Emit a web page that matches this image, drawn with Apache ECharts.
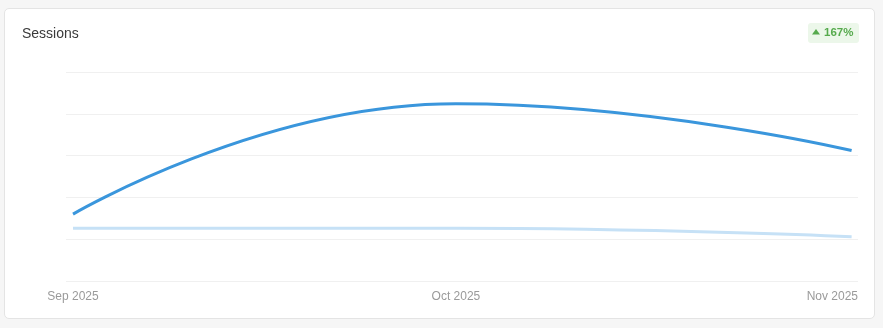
<!DOCTYPE html>
<html>
<head>
<meta charset="utf-8">
<script src="https://cdn.jsdelivr.net/npm/echarts@6/dist/echarts.min.js"></script>
<style>
  html, body { margin: 0; padding: 0; background: #f6f6f6; }
  #card { position: absolute; left: 4px; top: 8px; width: 869px; height: 309px; background: #fff; border: 1px solid #e4e4e4; border-radius: 5px; }
  #chart { position: absolute; left: 0; top: 0; width: 883px; height: 328px; }
</style>
</head>
<body>
<div id="card"></div>
<div id="chart"></div>
<script>
// Data (day offsets from Sep 1, 2025)
const dayOffsets = [0, 30, 61];
const tickLabels = ['Sep 2025', 'Oct 2025', 'Nov 2025'];
const currentSessions = [80, 212, 156];
const previousSessions = [63, 63, 53];
const titleText = 'Sessions';
const badgeText = '167%';

const chart = echarts.init(document.getElementById('chart'), null, { renderer: 'canvas' });

const labelPositions = [dayOffsets[0], dayOffsets[1], 61.5];

chart.setOption({
  backgroundColor: 'transparent',
  animation: false,
  title: {
    text: titleText,
    left: 22, top: 27, padding: 0,
    textStyle: { fontFamily: 'Liberation Sans, Arial, sans-serif', fontSize: 14, fontWeight: 'normal', color: '#3a3a3a' }
  },
  graphic: [
    {
      type: 'group', right: 24, top: 23,
      children: [
        { type: 'rect', shape: { x: 0, y: 0, width: 51, height: 20, r: 3 }, style: { fill: '#ecf7ea' } },
        { type: 'polygon', shape: { points: [[4, 11.5], [12, 11.5], [8, 6]] }, style: { fill: '#56aa4d' } },
        { type: 'text', x: 16, y: 10, style: { text: badgeText, fill: '#56aa4d', font: 'bold 11.5px "Liberation Sans", Arial, sans-serif', verticalAlign: 'middle' } }
      ]
    }
  ],
  grid: { left: 66, right: 25, top: 72, bottom: 47, containLabel: false },
  xAxis: {
    type: 'value',
    min: -0.55, max: 61.5,
    axisLine: { show: false },
    axisTick: { show: false },
    splitLine: { show: false },
    axisLabel: {
      customValues: labelPositions,
      alignMaxLabel: 'right',
      margin: 10,
      fontFamily: 'Liberation Sans, Arial, sans-serif',
      fontSize: 12,
      color: '#9a9a9a',
      formatter: function (v) {
        let best = 0;
        for (let i = 0; i < dayOffsets.length; i++) {
          if (Math.abs(dayOffsets[i] - v) < Math.abs(dayOffsets[best] - v)) best = i;
        }
        return tickLabels[best];
      }
    }
  },
  yAxis: {
    type: 'value', min: 0, max: 250, interval: 50,
    axisLine: { show: false }, axisTick: { show: false }, axisLabel: { show: false },
    splitLine: { lineStyle: { color: '#f0f0f0', width: 1 } }
  },
  series: [
    {
      type: 'line', smooth: true, symbol: 'none', z: 2,
      data: dayOffsets.map((d, i) => [d, previousSessions[i]]),
      lineStyle: { color: '#c6e1f6', width: 3 }
    },
    {
      type: 'line', smooth: true, symbol: 'none', z: 3,
      data: dayOffsets.map((d, i) => [d, currentSessions[i]]),
      lineStyle: { color: '#3a96dc', width: 3 }
    }
  ]
});
</script>
</body>
</html>
